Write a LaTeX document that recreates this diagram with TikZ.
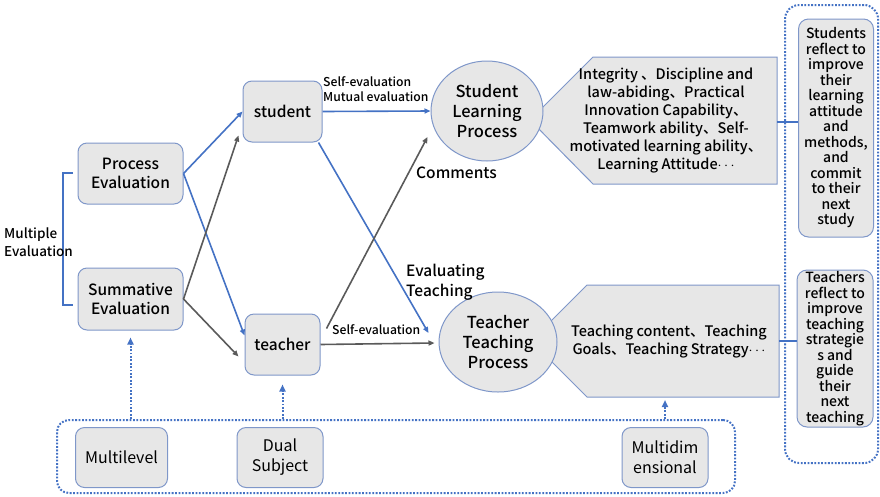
\documentclass[tikz,border=0pt]{standalone}
\usepackage{fontspec}
\setmainfont{Noto Sans CJK SC}[BoldFont={* Medium}]
\usetikzlibrary{arrows.meta,shapes.geometric}
\definecolor{boxfill}{HTML}{E7E7E7}
\definecolor{boxline}{HTML}{7F97C9}
\definecolor{blueline}{HTML}{4472C4}
\definecolor{grayline}{HTML}{5A5A5A}
\newcommand{\fs}[2]{\fontsize{#1}{#2}\selectfont}
\newcommand{\middots}{\ensuremath{\cdots}}
\begin{document}
\begin{tikzpicture}[x=1pt,y=-1pt,
  box/.style={draw=boxline, fill=boxfill, rounded corners=9pt, line width=1pt,
    align=center, inner sep=0pt, font=\fs{15.5}{19.5}\bfseries},
  refl/.style={box, rounded corners=10pt, font=\fs{14}{15.5}\bfseries},
  lowbox/.style={box, rounded corners=9pt, font=\fs{16}{20}},
  proc/.style={draw=boxline, fill=boxfill, line width=1pt},
  oval/.style={ellipse, draw=boxline, fill=boxfill, line width=1pt,
    align=center, inner sep=0pt, font=\fs{16.5}{20}\bfseries},
  dotbox/.style={draw=blueline, line width=2pt, dash pattern=on 1.8pt off 1.6pt,
    rounded corners=12pt, inner sep=0pt},
  tip/.style={-{Triangle[length=6pt,width=5pt]}},
  bluearr/.style={tip, draw=blueline, line width=1.6pt},
  grayarr/.style={tip, draw=grayline, line width=1.6pt},
  dotarr/.style={-{Triangle[length=7pt,width=6pt]}, draw=blueline, line width=2pt,
    dash pattern=on 1.8pt off 1.6pt},
  lbl/.style={inner sep=0pt, align=left, font=\fs{15.5}{20}\bfseries},
  small/.style={inner sep=0pt, align=left, font=\fs{12.2}{15}\bfseries},
  panel/.style={inner sep=0pt, align=center, font=\fs{14.5}{18}\bfseries}
]
\useasboundingbox (0,0) rectangle (880,496);

% outer dotted frames
\node[dotbox, minimum width=93pt, minimum height=458pt, rounded corners=14pt] (refbox) at (831.5,234) {};
\node[dotbox, minimum width=678pt, minimum height=73pt] (dimbox) at (396,456.5) {};

% evaluation types
\node[box, minimum width=105pt, minimum height=61pt] (pe) at (130.5,173.5) {Process\\Evaluation};
\node[box, minimum width=105pt, minimum height=62pt] (se) at (130.5,299) {Summative\\Evaluation};

% bracket grouping the two evaluation types
\draw[blueline, line width=1.6pt] (73,173) coordinate (bt) -- ++(-10,0) |- (73,305) coordinate (bb);
\node[inner sep=0pt, align=left, anchor=west, font=\fs{13.5}{18.5}\bfseries] (multi) at (4,242) {Multiple\\Evaluation};

% subjects
\node[box, minimum width=79pt, minimum height=61pt] (st) at (282.5,111.5) {student};
\node[box, minimum width=75pt, minimum height=61pt] (te) at (282.5,344.5) {teacher};

% content panels (pointed on the left)
\coordinate (spR) at (777,122);
\filldraw[proc] (530,120) -- (593,57) -- (777,57) -- (777,184) -- (593,184) -- cycle;
\node[panel] (sptext) at (666,121)
  {Integrity 、Discipline and\\law-abiding、Practical\\Innovation Capability、\\Teamwork ability、Self-\\motivated learning ability、\\Learning Attitude\middots};
\coordinate (tpR) at (779,341);
\filldraw[proc] (531,341) -- (587,285) -- (779,285) -- (779,397) -- (587,397) -- cycle;
\node[panel] (tptext) at (669,342)
  {Teaching content、Teaching\\Goals、Teaching Strategy\middots};
\coordinate (tpB) at (665,397);

% processes
\node[oval, minimum width=112pt, minimum height=100pt] (slp) at (487,111) {Student\\Learning\\Process};
\node[oval, minimum width=118pt, minimum height=100pt] (ttp) at (498,342) {Teacher\\Teaching\\Process};

% reflection boxes
\node[refl, minimum width=75pt, minimum height=218pt] (sr) at (836,128)
  {Students\\reflect to\\improve\\their\\learning\\attitude\\and\\methods,\\and\\commit\\to their\\next\\study};
\node[refl, minimum width=76pt, minimum height=157pt] (tr) at (835,348.5)
  {Teachers\\reflect to\\improve\\teaching\\strategie\\s and\\guide\\their\\next\\teaching};
\draw[blueline, line width=1.6pt] (spR) -- (spR -| sr.west);
\draw[blueline, line width=1.6pt] (tpR) -- (tpR -| tr.west);

% dimensions
\node[lowbox, minimum width=92pt, minimum height=60pt] (ml) at (121.5,457.5) {Multilevel};
\node[lowbox, minimum width=86pt, minimum height=60pt] (ds) at (280,457.5) {Dual\\Subject};
\node[lowbox, minimum width=86pt, minimum height=60pt] (md) at (665,457.5) {Multidim\\ensional};

% connectors (shifts are in page units: positive yshift moves up)
\draw[bluearr] (pe.east) -- (st.west);
\draw[bluearr] (pe.east) -- ([yshift=9pt]te.west);
\draw[grayarr] (se.east) -- ([xshift=-4pt,yshift=7pt]st.south west);
\draw[grayarr] (se.east) -- ([xshift=-6pt,yshift=-12pt]te.west);
\draw[bluearr] (st.east) -- (slp.west);
\draw[bluearr] ([xshift=-4pt]st.south east) -- ([xshift=-10pt,yshift=9pt]ttp.west);
\draw[grayarr] ([xshift=6pt,yshift=-15pt]te.north east) -- ([xshift=-3pt,yshift=-26pt]slp.west);
\draw[grayarr] (te.east) -- ([xshift=-4pt,yshift=-1pt]ttp.west);

% connector labels
\node[small, anchor=west] (l1) at (323,89) {Self-evaluation\\Mutual evaluation};
\node[lbl, anchor=west] (l2) at (416,173) {Comments};
\node[lbl, anchor=west] (l3) at (406,282) {Evaluating\\Teaching};
\node[small, anchor=west] (l4) at (332,330) {Self-evaluation};

% dotted arrows from the dimensions
\draw[dotarr, shorten >=7pt] (dimbox.north -| se.south) -- (se.south);
\draw[dotarr, shorten >=9pt] (dimbox.north -| te.south) -- (te.south);
\draw[dotarr, shorten >=3pt] (dimbox.north -| tpB) -- (tpB);
\end{tikzpicture}
\end{document}
